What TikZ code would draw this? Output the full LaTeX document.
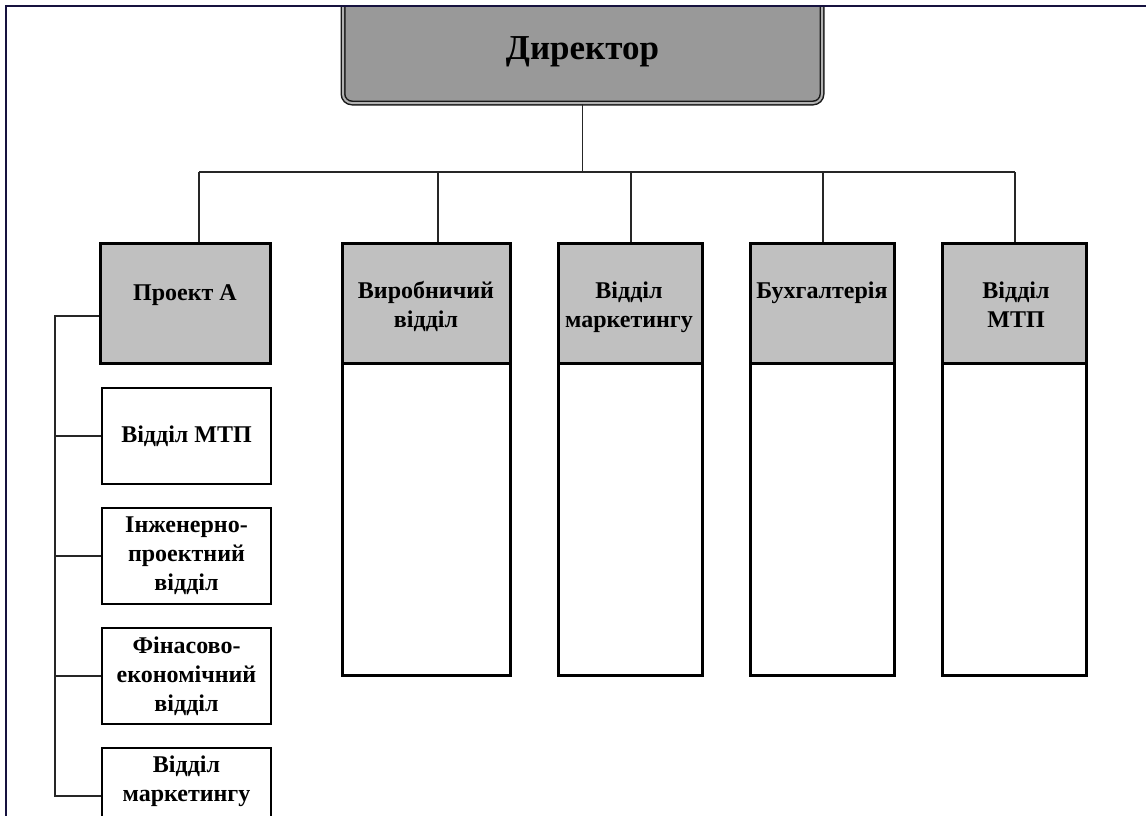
\documentclass[tikz,border=0pt]{standalone}
\usepackage{fontspec}
\setmainfont{Liberation Serif}
\definecolor{framenavy}{HTML}{16123F}
\definecolor{dirgray}{HTML}{999999}
\definecolor{headgray}{HTML}{C0C0C0}
\begin{document}
\begin{tikzpicture}[x=1pt,y=-1pt,
  conn/.style={line width=1.5pt, draw=black!85},
  dirbox/.style={draw=black!90, line width=1.5pt, double=black!30, double distance=2pt,
    fill=dirgray, rounded corners=9pt, inner sep=0pt},
  headbox/.style={draw=black, line width=3pt, fill=headgray, inner sep=0pt},
  bodybox/.style={draw=black, line width=3pt, fill=white, inner sep=0pt},
  unitbox/.style={draw=black, line width=1.5pt, fill=white, inner sep=0pt},
  lbl/.style={font=\bfseries\fontsize{24}{29}\selectfont, align=center, inner sep=0pt},
]
\useasboundingbox (0,0) rectangle (1146,816);
\begin{scope}
\clip (0,6) rectangle (1146,816);

% director
\node[dirbox, minimum width=479pt, minimum height=112pt] (dir) at (582.5,47) {};
\node[inner sep=0pt, font=\bfseries\fontsize{35}{40}\selectfont] (dirt) at (582.5,52) {Директор};

% bus under the director
\coordinate (busL) at (199,172);
\coordinate (busR) at (1015,172);

% project box
\node[headbox, minimum width=170pt, minimum height=120pt] (proj) at (185,303) {};
\node[lbl, anchor=base] (projt) at (185,300) {Проект А};

% department columns: white body, grey head
\node[bodybox, minimum width=168pt, minimum height=312pt] (c1b) at (426,519) {};
\node[headbox, minimum width=168pt, minimum height=120pt] (c1h) at (426,303) {};
\node[lbl, anchor=base] (c1t) at (426,327) {Виробничий\\відділ};

\node[bodybox, minimum width=144pt, minimum height=312pt] (c2b) at (630,519) {};
\node[headbox, minimum width=144pt, minimum height=120pt] (c2h) at (630,303) {};
\node[lbl, anchor=base] (c2t) at (629,327) {Відділ\\маркетингу};

\node[bodybox, minimum width=144pt, minimum height=312pt] (c3b) at (822,519) {};
\node[headbox, minimum width=144pt, minimum height=120pt] (c3h) at (822,303) {};
\node[lbl, anchor=base] (c3t) at (822,298) {Бухгалтерія};

\node[bodybox, minimum width=144pt, minimum height=312pt] (c4b) at (1014,519) {};
\node[headbox, minimum width=144pt, minimum height=120pt] (c4h) at (1014,303) {};
\node[lbl, anchor=base] (c4t) at (1016,327) {Відділ\\МТП};

% project units
\node[unitbox, minimum width=169pt, minimum height=96pt, lbl] (u1) at (186.5,436) {Відділ МТП};
\node[unitbox, minimum width=169pt, minimum height=96pt, lbl] (u2) at (186.5,556) {Інженерно-\\проектний\\відділ};
\node[unitbox, minimum width=169pt, minimum height=96pt, lbl] (u3) at (186.5,676) {Фінасово-\\економічний\\відділ};
\node[unitbox, minimum width=169pt, minimum height=96pt] (u4) at (186.5,796) {};
\node[lbl, anchor=base] (u4t) at (186.5,801) {Відділ\\маркетингу};

% connectors from the director
\draw[conn] (dir.south) -- (dir.south |- busL);
\draw[conn] (busL) -- (busR);
\draw[conn] (busL) -- (busL |- proj.north);
\draw[conn] ([xshift=12pt]c1h.north) -- ([xshift=12pt]c1h.north |- busL);
\draw[conn] ([xshift=1pt]c2h.north) -- ([xshift=1pt]c2h.north |- busL);
\draw[conn] ([xshift=1pt]c3h.north) -- ([xshift=1pt]c3h.north |- busL);
\draw[conn] (busR |- c4h.north) -- (busR);

% spine of the project units
\coordinate (sp) at (55,0);
\draw[conn] ([yshift=-13pt]proj.west) -- ([yshift=-13pt]proj.west -| sp) -- (u4.west -| sp) -- (u4.west);
\draw[conn] (u1.west -| sp) -- (u1.west);
\draw[conn] (u2.west -| sp) -- (u2.west);
\draw[conn] (u3.west -| sp) -- (u3.west);
\end{scope}

% page frame
\draw[framenavy, line width=1.6pt] (6,816) -- (6,6) -- (1146,6);
\end{tikzpicture}
\end{document}
